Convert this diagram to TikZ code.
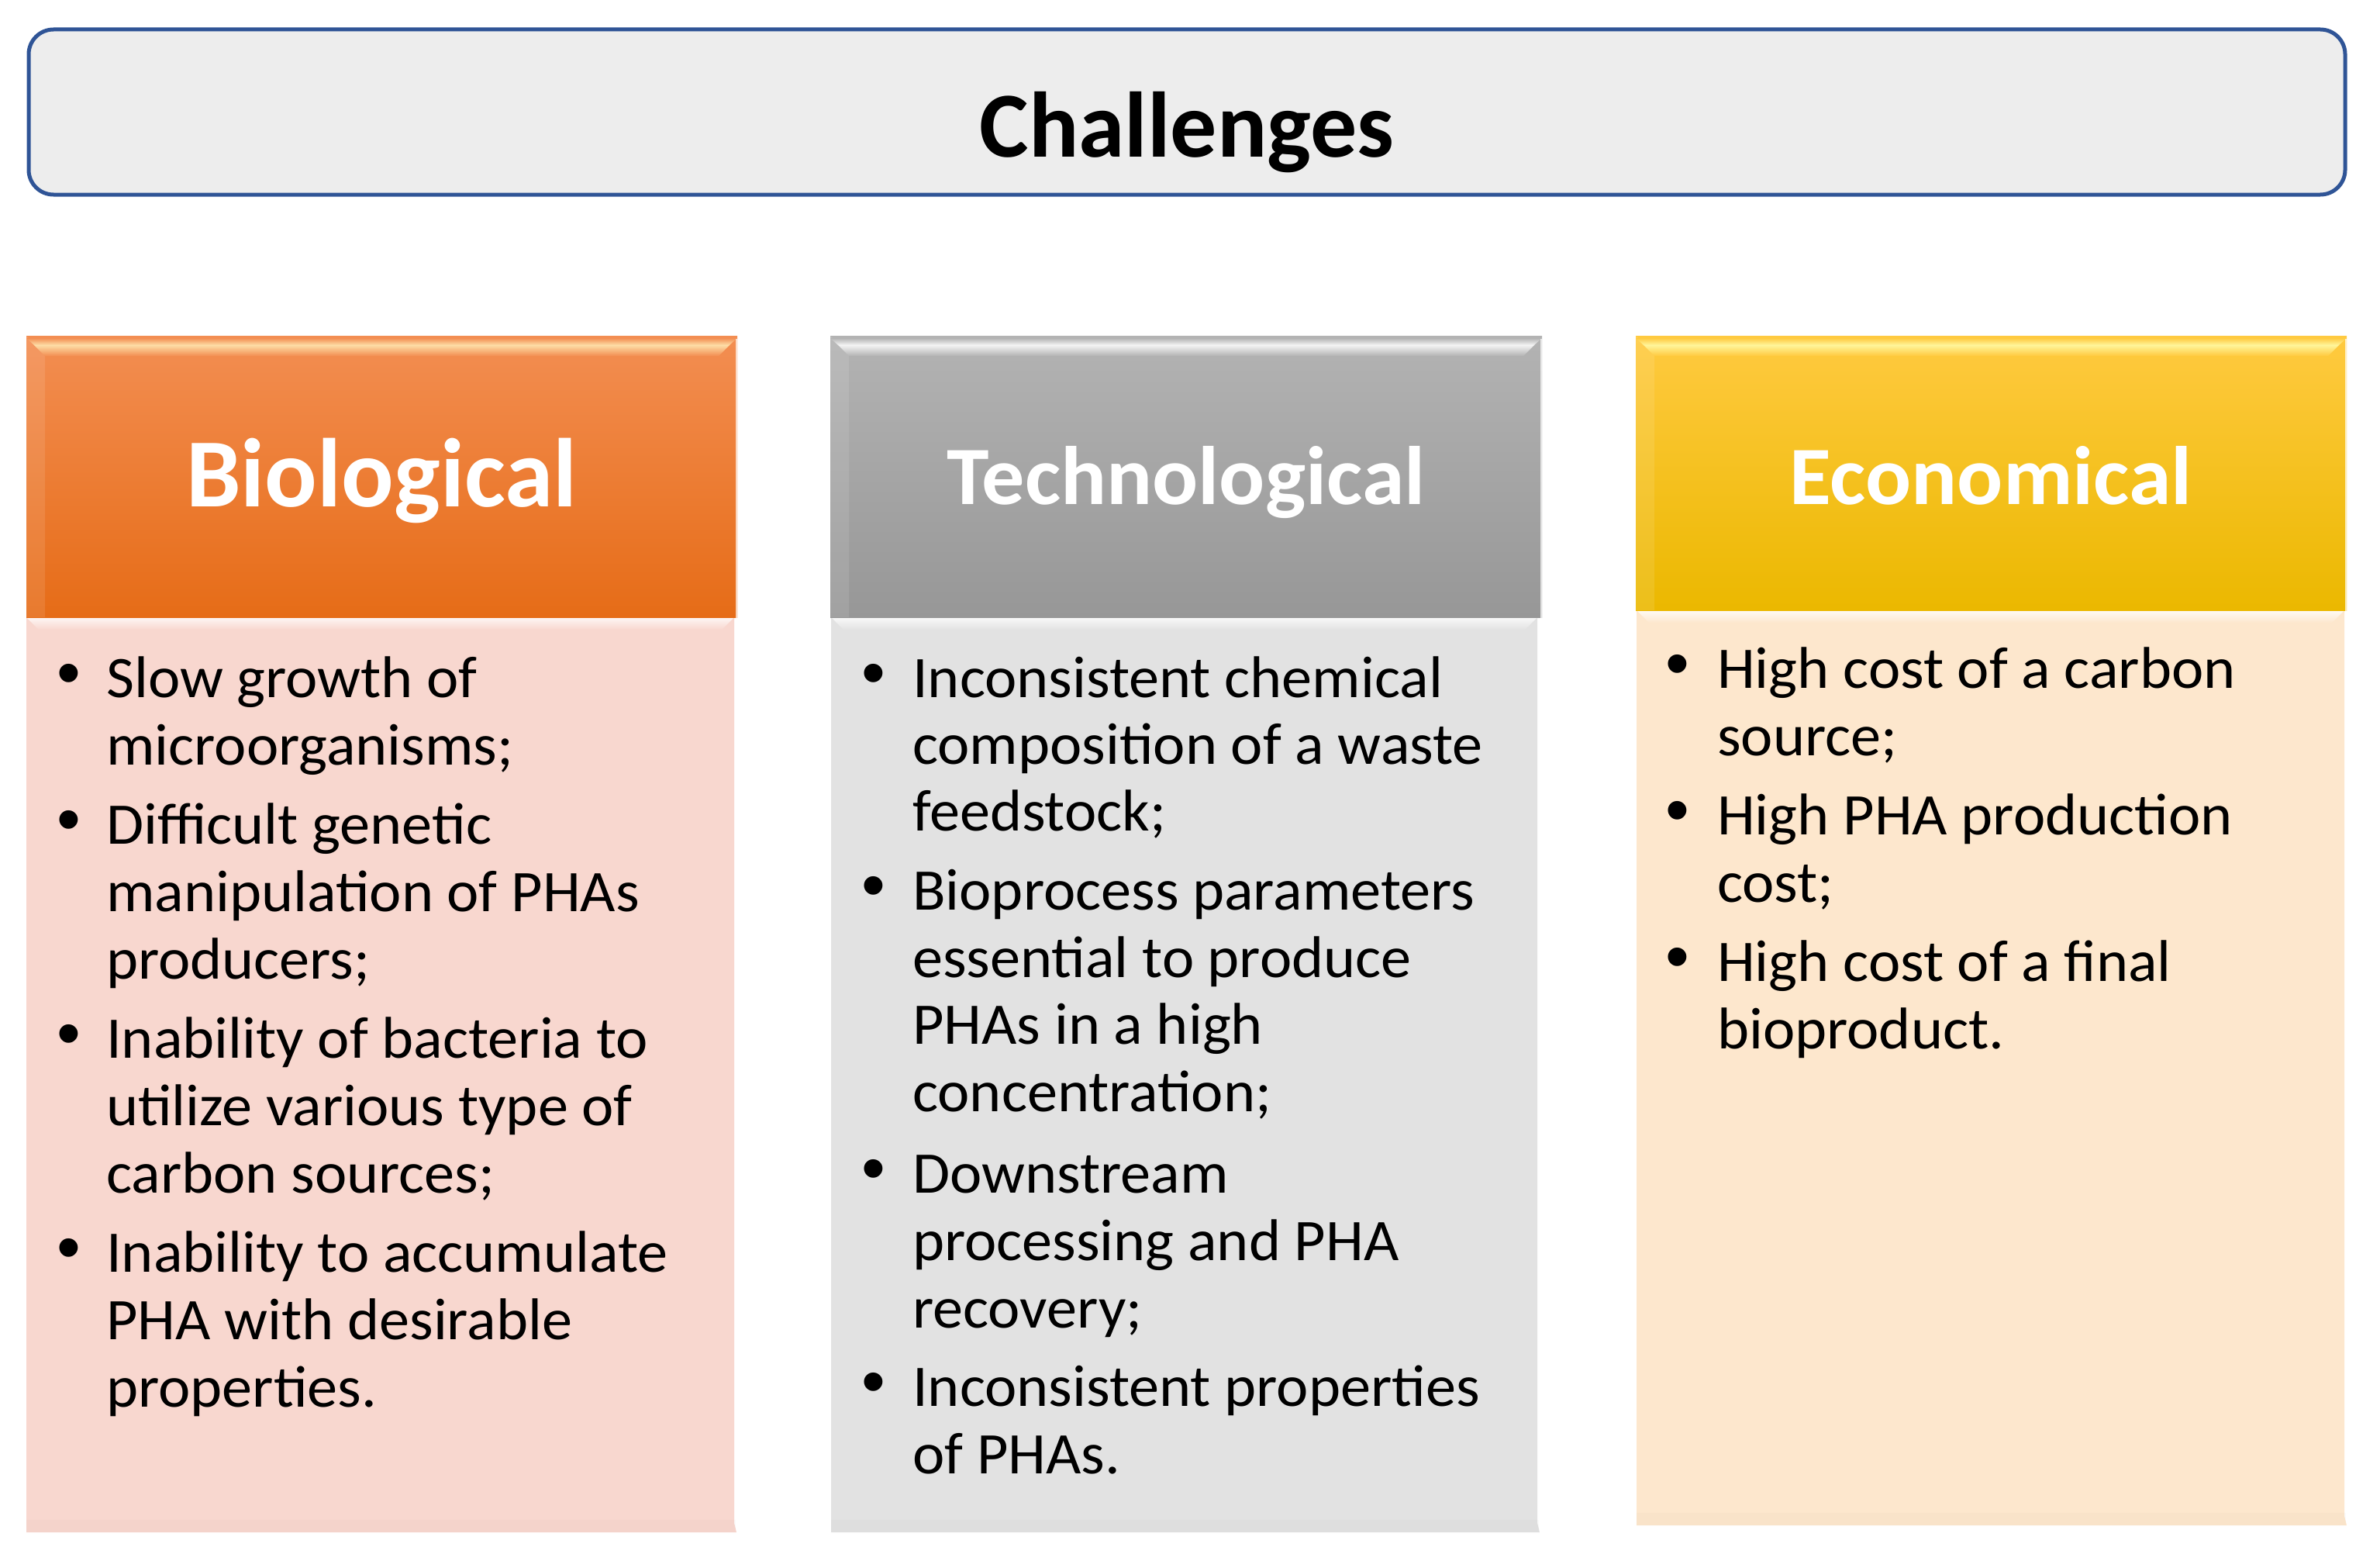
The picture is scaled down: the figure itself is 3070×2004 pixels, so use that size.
\documentclass[tikz,border=0pt]{standalone}
\usepackage{fontspec}
\usepackage{graphicx}
\setmainfont{Carlito}
\newfontfamily\bulfont{Liberation Sans}
\definecolor{titlefill}{HTML}{EDEDED}
\definecolor{titleline}{HTML}{2F5496}
\definecolor{bioA}{HTML}{F38E52}
\definecolor{bioB}{HTML}{F67D2C}
\definecolor{bioC}{HTML}{E66C17}
\definecolor{bioHi}{HTML}{FDDDA6}
\definecolor{bioBody}{HTML}{F8D7CF}
\definecolor{tecA}{HTML}{B3B3B3}
\definecolor{tecB}{HTML}{A6A6A6}
\definecolor{tecC}{HTML}{979797}
\definecolor{tecHi}{HTML}{F4F4F4}
\definecolor{tecBody}{HTML}{E2E2E2}
\definecolor{ecoA}{HTML}{FFCA40}
\definecolor{ecoB}{HTML}{FFC600}
\definecolor{ecoC}{HTML}{EBB800}
\definecolor{ecoHi}{HTML}{FFF59A}
\definecolor{ecoBody}{HTML}{FDE7CD}
\newcommand\bodyfont{\fontsize{76}{87}\selectfont}
% header box: x0 y0 x1 y1 top mid bottom highlight
\newcommand\hdrbox[8]{%
  \shade[top color=#5, middle color=#6, bottom color=#7] (#1,#2) rectangle (#3,#4);
  \fill[white, opacity=0.10] (#1,#2) -- (#1+24,#2+24) -- (#1+24,#4) -- (#1,#4) -- cycle;
  \shade[top color=#5, bottom color=#8] (#1,#2+3) -- (#3,#2+3) -- (#3-10,#2+12) -- (#1+10,#2+12) -- cycle;
  \shade[top color=#8, bottom color=#5] (#1+10,#2+12) -- (#3-10,#2+12) -- (#3-24,#2+26) -- (#1+24,#2+26) -- cycle;
  \draw[white, opacity=0.7, line width=2pt] (#3-1,#2+4) -- (#3-1,#4+6);
}
% body box: x0 y0 x1 y1 colour
\newcommand\bodybox[5]{%
  \fill[#5] (#1,#2) -- (#3,#2) -- (#3,#4-12) -- (#3+3,#4) -- (#1,#4) -- cycle;
  \shade[top color=white!80!#5, bottom color=#5] (#1,#2) -- (#3,#2) -- (#3-16,#2+16) -- (#1+16,#2+16) -- cycle;
  \fill[black, opacity=0.015] (#1,#4-16) rectangle (#3+2,#4);
}
\tikzset{
  bodytext/.style={anchor=base west, inner sep=0pt, font=\bodyfont, text=black},
  bul/.style={inner sep=0pt, font=\bulfont\fontsize{88}{88}\selectfont, text=black},
  hdrtext/.style={anchor=base, inner sep=0pt, text=white, font=\bfseries\fontsize{#1}{#1}\selectfont},
  titletext/.style={anchor=base, inner sep=0pt, text=black, font=\bfseries\fontsize{120}{120}\selectfont},
}
\begin{document}
\begin{tikzpicture}[x=1pt,y=-1pt]
\useasboundingbox (0,0) rectangle (3070,2004);
\fill[white] (0,0) rectangle (3070,2004);

% title
\draw[titleline, line width=5pt, fill=titlefill, rounded corners=32pt] (37,38) rectangle (3025,251);
\node[titletext] (title) at (1531,203) {Challenges};

% columns
\bodybox{34}{796}{947}{1976}{bioBody}
\hdrbox{34}{433}{951}{796}{bioA}{bioB}{bioC}{bioHi}
\node[hdrtext=126] (bioH) at (492,653) {Biological};

\bodybox{1072}{796}{1983}{1976}{tecBody}
\hdrbox{1071}{433}{1989}{796}{tecA}{tecB}{tecC}{tecHi}
\node[hdrtext=107] (tecH) at (1530,650) {\scalebox{1.03}[1]{Technological}};

\bodybox{2111}{787}{3024}{1967}{ecoBody}
\hdrbox{2110}{433}{3027}{787}{ecoA}{ecoB}{ecoC}{ecoHi}
\node[hdrtext=107] (ecoH) at (2568,650) {\scalebox{1.03}[1]{Economical}};

% Biological items
\foreach \yy/\bu/\ltext [count=\i] in {
  899/1/Slow growth of,
  986/0/microorganisms;,
  1088/1/Difficult genetic,
  1175/0/manipulation of PHAs,
  1262/0/producers;,
  1364/1/Inability of bacteria to,
  1451/0/utilize various type of,
  1538/0/carbon sources;,
  1640/1/Inability to accumulate,
  1727/0/PHA with desirable,
  1814/0/properties.}{
  \node[bodytext] (bio\i) at (137,\yy) {\scalebox{1.03}[1]{\ltext}};
  \ifnum\bu=1 \node[bul] (biob\i) at (89,\yy-22) {•}; \fi
}

% Technological items
\foreach \yy/\bu/\ltext [count=\i] in {
  899/1/Inconsistent chemical,
  985/0/composition of a waste,
  1071/0/feedstock;,
  1173/1/Bioprocess parameters,
  1260/0/essential to produce,
  1346/0/PHAs in a high,
  1433/0/concentration;,
  1538/1/Downstream,
  1625/0/processing and PHA,
  1712/0/recovery;,
  1813/1/Inconsistent properties,
  1900/0/of PHAs.}{
  \node[bodytext] (tec\i) at (1177,\yy) {\scalebox{1.03}[1]{\ltext}};
  \ifnum\bu=1 \node[bul] (tecb\i) at (1127,\yy-22) {•}; \fi
}

% Economical items
\foreach \yy/\bu/\ltext [count=\i] in {
  887/1/High cost of a carbon,
  974/0/source;,
  1076/1/High PHA production,
  1163/0/cost;,
  1265/1/High cost of a final,
  1352/0/bioproduct.}{
  \node[bodytext] (eco\i) at (2215,\yy) {\scalebox{1.03}[1]{\ltext}};
  \ifnum\bu=1 \node[bul] (ecob\i) at (2164,\yy-22) {•}; \fi
}
\end{tikzpicture}
\end{document}
